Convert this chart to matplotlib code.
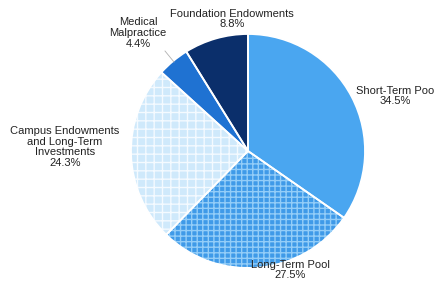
import matplotlib
matplotlib.use("Agg")
import matplotlib.pyplot as plt

categories = ["Short-Term Poo", "Long-Term Pool",
              "Campus Endowments\nand Long-Term\nInvestments",
              "Medical\nMalpractice", "Foundation Endowments"]
values = [34.5, 27.5, 24.3, 4.4, 8.8]
pct_labels = ["34.5%", "27.5%", "24.3%", "4.4%", "8.8%"]

colors = ["#4aa6f0", "#3f9ae8", "#cfe9fb", "#1f72d2", "#0b2f6b"]
hatch_colors = ["#4aa6f0", "#93cdf8", "#f4faff", "#1f72d2", "#0b2f6b"]
hatches = [None, "+++", "++", None, None]

plt.rcParams['font.family'] = ['Liberation Sans', 'DejaVu Sans']
plt.rcParams['hatch.linewidth'] = 1.0

fig = plt.figure(figsize=(4.36, 2.87), dpi=100)
ax = fig.add_axes([0, 0, 1, 1])

center = (248, 136)
radius = 117
wedges, _ = ax.pie(values, colors=colors, startangle=90, counterclock=False,
                   center=center, radius=radius, frame=True,
                   wedgeprops=dict(linewidth=0))
for w, h, hc in zip(wedges, hatches, hatch_colors):
    w.set_edgecolor(hc)
    if h:
        w.set_hatch(h)
ax.pie(values, colors=["none"] * len(values), startangle=90, counterclock=False,
       center=center, radius=radius, frame=True,
       wedgeprops=dict(edgecolor="white", linewidth=1.3))

ax.set_xlim(0, 436)
ax.set_ylim(0, 287)
ax.set_aspect('equal')
ax.axis('off')

label_pos = [(395, 191), (290, 17), (65, 140), (138, 254), (232, 268)]
for name, pct, (x, y) in zip(categories, pct_labels, label_pos):
    ax.text(x, y, name + "\n" + pct, ha='center', va='center', fontsize=8,
            color="#222222", linespacing=1.1, multialignment='center')

ax.plot([165, 174], [236, 225], color="#b0b0b0", lw=0.6)

fig.savefig("out.png", dpi=100)
